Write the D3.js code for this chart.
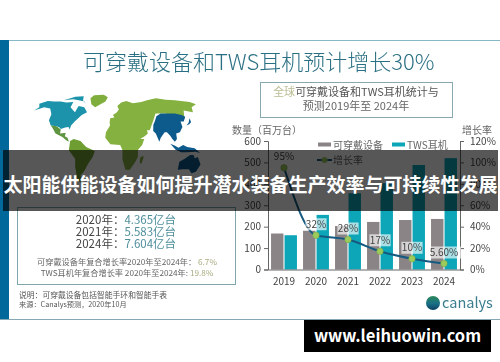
<!DOCTYPE html>
<html>
<head>
<meta charset="utf-8">
<script src="https://cdn.jsdelivr.net/npm/d3@7"></script>
<style>
html, body { margin: 0; padding: 0; background: #fff; }
svg { display: block; }
text { font-family: "Noto Sans CJK SC", "Noto Sans", sans-serif; }
</style>
</head>
<body>
<div id="chart"></div>
<script>
const years = ["2019", "2020", "2021", "2022", "2023", "2024"];
const wearables = [168, 181, 203, 222, 231, 236];
const tws = [160, 255, 356, 403, 488, 520];
const growth = [95, 32, 28, 17, 10, 5.6];
const growthLabels = ["95%", "32%", "28%", "17%", "10%", "5.60%"];
const countTicks = [0, 100, 200, 300, 400, 500, 600];
const rateTicks = [0, 20, 40, 60, 80, 100, 120];

// rough continent outlines, lon/lat
const northAmerica = [[-168,66],[-156,71],[-140,70],[-125,70],[-110,68],[-95,69],[-94,60],[-85,55],[-80,52],[-79,58],[-78,62],[-65,60],[-56,52],[-65,48],[-70,43],[-75,38],[-80,32],[-81,26],[-84,30],[-90,29],[-97,27],[-100,29],[-106,31],[-117,32],[-124,40],[-125,49],[-135,58],[-150,60],[-165,55],[-160,60]];
const arctic = [[-120,72],[-100,74],[-85,72],[-70,70],[-65,66],[-75,72],[-80,80],[-100,79]];
const mexico = [[-117,32],[-106,31],[-97,26],[-97,20],[-90,21],[-87,21],[-88,16],[-83,14],[-80,8],[-85,10],[-92,15],[-105,20],[-112,28]];
const southAmerica = [[-78,9],[-72,12],[-60,9],[-50,0],[-35,-6],[-39,-15],[-48,-25],[-57,-36],[-65,-42],[-68,-54],[-74,-50],[-72,-30],[-70,-18],[-80,-5]];
const greenland = [[-55,82],[-30,83],[-18,78],[-22,70],[-42,60],[-52,65],[-60,76]];
const afroEurasia = [[-10,37],[-9,43],[-1,44],[-4,48],[4,52],[8,57],[5,62],[14,68],[26,71],[40,67],[60,69],[75,72],[100,76],[120,73],[140,72],[170,69],[178,65],[162,60],[156,52],[140,55],[132,43],[120,40],[100,50],[80,50],[72,40],[62,25],[57,25],[58,20],[52,16],[44,12],[51,12],[47,3],[40,-4],[40,-15],[35,-24],[27,-34],[19,-34],[13,-18],[13,-5],[9,3],[-8,4],[-17,14],[-16,22],[-9,32]];
const china = [[74,38],[80,46],[90,50],[105,50],[118,50],[130,48],[135,45],[128,38],[122,38],[122,30],[115,22],[108,20],[108,12],[104,8],[100,12],[97,17],[92,22],[88,22],[80,14],[77,8],[72,20],[68,24],[70,33]];
const japan = [[130,32],[136,34],[141,37],[142,43],[140,41],[136,36]];
const indonesia = [[96,5],[105,-4],[115,-8],[125,-8],[140,-7],[148,-9],[138,-2],[125,0],[118,3],[110,-1],[104,2]];
const australia = [[114,-22],[122,-18],[131,-12],[137,-12],[140,-17],[145,-15],[153,-26],[150,-37],[143,-39],[135,-33],[124,-33],[115,-34]];
const madagascar = [[44,-16],[49,-13],[50,-16],[47,-25],[44,-24]];

const width = 500, height = 362;
const svg = d3.select("#chart").append("svg").attr("width", width).attr("height", height);

const defs = svg.append("defs");
defs.append("filter").attr("id", "soft")
    .attr("x", "0").attr("y", "0").attr("width", "1").attr("height", "1")
    .append("feGaussianBlur").attr("stdDeviation", 0.4);
const globeFill = defs.append("linearGradient").attr("id", "globe")
    .attr("x1", "0").attr("y1", "0").attr("x2", "0").attr("y2", "1");
globeFill.append("stop").attr("offset", "0%").attr("stop-color", "#2a8a5a");
globeFill.append("stop").attr("offset", "55%").attr("stop-color", "#1a6f86");
globeFill.append("stop").attr("offset", "100%").attr("stop-color", "#0c3f62");

const page = svg.append("g").attr("filter", "url(#soft)");

// panel
page.append("rect").attr("x", 0).attr("y", 40).attr("width", 500).attr("height", 280).attr("fill", "#fff");
page.append("rect").attr("x", 0).attr("y", 40).attr("width", 9).attr("height", 279).attr("fill", "#06689a");
page.append("line").attr("x1", 9).attr("x2", 500).attr("y1", 40.5).attr("y2", 40.5).attr("stroke", "#86b8c6");
page.append("line").attr("x1", 0).attr("x2", 500).attr("y1", 319.5).attr("y2", 319.5).attr("stroke", "#86a8b4");

page.append("text").attr("x", 83).attr("y", 70)
    .attr("font-size", 22).attr("fill", "#2c7084").attr("font-weight", 300)
    .text("可穿戴设备和TWS耳机预计增长30%");

// map
const projection = d3.geoNaturalEarth1().scale(38).translate([115, 147]);
const ringPath = ring => d3.line()(ring.map(projection)) + "Z";
const mapShapes = [
    [northAmerica, "#1a93ab"], [arctic, "#1a93ab"], [greenland, "#7fae3c"],
    [mexico, "#5f9440"], [southAmerica, "#6e9e32"], [afroEurasia, "#84b13f"],
    [china, "#0d5a8c"], [japan, "#0d5a8c"], [indonesia, "#0d5a8c"],
    [australia, "#0d5a8c"], [madagascar, "#84b13f"]
];
page.append("g").selectAll("path").data(mapShapes).join("path")
    .attr("d", d => ringPath(d[0]))
    .attr("fill", d => d[1]);

// subtitle box
page.append("rect").attr("x", 260.5).attr("y", 82.5).attr("width", 192).attr("height", 35)
    .attr("fill", "#fff").attr("stroke", "#86a8ae");
const sub1 = page.append("text").attr("x", 356).attr("y", 96).attr("text-anchor", "middle")
    .attr("font-size", 11).attr("fill", "#555");
sub1.append("tspan").attr("fill", "#b9bd92").text("全球");
sub1.append("tspan").text("可穿戴设备和TWS耳机统计与");
page.append("text").attr("x", 356).attr("y", 110).attr("text-anchor", "middle")
    .attr("font-size", 11).attr("fill", "#666").text("预测2019年至 2024年");

// chart
const x = d3.scaleBand().domain(years).range([268, 460]).paddingInner(0.19).paddingOuter(0.095);
const xSub = d3.scaleBand().domain(["wearables", "tws"]).range([0, x.bandwidth()]).paddingInner(0.08);
const y = d3.scaleLinear().domain([0, 600]).range([269.5, 141]);
const yRate = d3.scaleLinear().domain([0, 120]).range([269.5, 141]);

page.append("g").selectAll("rect").data(years).join("rect")
    .attr("x", d => x(d) + xSub("wearables"))
    .attr("width", xSub.bandwidth())
    .attr("y", (d, i) => y(wearables[i]))
    .attr("height", (d, i) => y(0) - y(wearables[i]))
    .attr("fill", "#8b8487");
page.append("g").selectAll("rect").data(years).join("rect")
    .attr("x", d => x(d) + xSub("tws"))
    .attr("width", xSub.bandwidth())
    .attr("y", (d, i) => y(tws[i]))
    .attr("height", (d, i) => y(0) - y(tws[i]))
    .attr("fill", "#0ba6b8");

const styleAxis = g => {
    g.selectAll("path,line").attr("stroke", "#666");
    g.selectAll("text").attr("fill", "#444").attr("font-size", 10).attr("font-family", "'Noto Sans', sans-serif");
};
page.append("g").attr("transform", "translate(268,0)")
    .call(d3.axisLeft(y).tickValues(countTicks).tickSize(4).tickPadding(3))
    .call(styleAxis).select(".domain").attr("fill", "none");
page.append("g").attr("transform", "translate(460,0)")
    .call(d3.axisRight(yRate).tickValues(rateTicks).tickSize(4).tickPadding(6).tickFormat(d => d + "%"))
    .call(styleAxis).select(".domain").attr("fill", "none");
page.append("g").attr("transform", "translate(0,269.5)")
    .call(d3.axisBottom(x).tickSize(0).tickPadding(8))
    .call(styleAxis).select(".domain").attr("fill", "none");

page.append("text").attr("x", 232).attr("y", 134).attr("font-size", 10).attr("fill", "#666").text("数量（百万台）");
page.append("text").attr("x", 462).attr("y", 134).attr("font-size", 10).attr("fill", "#666").text("增长率");

// legend
page.append("rect").attr("x", 318).attr("y", 142.5).attr("width", 13).attr("height", 4).attr("fill", "#8b8487");
page.append("text").attr("x", 333).attr("y", 148.5).attr("font-size", 10).attr("fill", "#666").text("可穿戴设备");
page.append("rect").attr("x", 392).attr("y", 142.5).attr("width", 13).attr("height", 4).attr("fill", "#0ba6b8");
page.append("text").attr("x", 407).attr("y", 148.5).attr("font-size", 10).attr("fill", "#666").text("TWS耳机");
page.append("line").attr("x1", 317).attr("x2", 332).attr("y1", 160).attr("y2", 160).attr("stroke", "#1d5a80").attr("stroke-width", 2);
page.append("circle").attr("cx", 324.5).attr("cy", 160).attr("r", 3).attr("fill", "#9ccb5c");
page.append("text").attr("x", 333).attr("y", 164).attr("font-size", 10).attr("fill", "#666").text("增长率");

// growth line
const cx = d => x(d) + x.bandwidth() / 2;
const line = d3.line().x(d => cx(d)).y((d, i) => yRate(growth[i])).curve(d3.curveMonotoneX);
page.append("path").datum(years).attr("d", line)
    .attr("fill", "none").attr("stroke", "#145a80").attr("stroke-width", 2);
page.append("g").selectAll("circle").data(years).join("circle")
    .attr("cx", cx)
    .attr("cy", (d, i) => yRate(growth[i]))
    .attr("r", 3.2)
    .attr("fill", "#9ccb5c").attr("stroke", "#7cab48").attr("stroke-width", 0.6);

const labels = page.append("g").selectAll("g").data(years).join("g")
    .attr("transform", (d, i) => `translate(${cx(d)},${yRate(growth[i]) - 11})`);
labels.append("rect")
    .attr("x", (d, i) => -growthLabels[i].length * 3.2 - 1)
    .attr("y", -6)
    .attr("width", (d, i) => growthLabels[i].length * 6.4 + 2)
    .attr("height", 12)
    .attr("fill", "#fff").attr("fill-opacity", (d, i) => i === 0 ? 0 : 0.65);
labels.append("text")
    .attr("text-anchor", "middle").attr("dy", "0.36em")
    .attr("font-size", 10).attr("fill", "#444")
    .attr("font-family", "'Noto Sans', sans-serif")
    .text((d, i) => growthLabels[i]);

// stats box
page.append("rect").attr("x", 17.5).attr("y", 207.5).attr("width", 218).attr("height", 77)
    .attr("fill", "#fff").attr("stroke", "#7fa5ad");
const statRows = [["2020年：", "4.365亿台", 224], ["2021年：", "5.583亿台", 236], ["2024年：", "7.604亿台", 248]];
const statText = page.append("g").selectAll("text").data(statRows).join("text")
    .attr("x", 126).attr("y", d => d[2]).attr("text-anchor", "middle")
    .attr("font-size", 11.5).attr("fill", "#444");
statText.append("tspan").text(d => d[0]);
statText.append("tspan").attr("fill", "#4f8f9c").text(d => d[1]);

const cagr1 = page.append("text").attr("x", 127).attr("y", 265).attr("text-anchor", "middle")
    .attr("font-size", 8.2).attr("fill", "#666");
cagr1.append("tspan").text("可穿戴设备年复合增长率2020年至2024年：");
cagr1.append("tspan").attr("fill", "#a9ac80").text(" 6.7%");
const cagr2 = page.append("text").attr("x", 127).attr("y", 276).attr("text-anchor", "middle")
    .attr("font-size", 8.2).attr("fill", "#666");
cagr2.append("tspan").text("TWS耳机年复合增长率 2020年至2024年:");
cagr2.append("tspan").attr("fill", "#a9ac80").text(" 19.8%");

page.append("text").attr("x", 19).attr("y", 298).attr("font-size", 7.8).attr("fill", "#555").text("说明：可穿戴设备包括智能手环和智能手表");
page.append("text").attr("x", 19).attr("y", 307).attr("font-size", 7.2).attr("fill", "#555").text("来源：Canalys预测，2020年10月");

// logo
page.append("circle").attr("cx", 433).attr("cy", 303).attr("r", 7).attr("fill", "url(#globe)");
page.append("text").attr("x", 442).attr("y", 308).attr("font-size", 14.5).attr("fill", "#3a7d8e")
    .attr("font-family", "'Open Sans', sans-serif").text("canalys");

// overlay band
svg.append("rect").attr("x", 3).attr("y", 150).attr("width", 495).attr("height", 61)
    .attr("fill", "#000").attr("fill-opacity", 0.66);
svg.append("text").attr("x", 250.5).attr("y", 192).attr("text-anchor", "middle")
    .attr("font-size", 19).attr("font-weight", 700).attr("fill", "#fff")
    .text("太阳能供能设备如何提升潜水装备生产效率与可持续性发展");

// watermark
svg.append("rect").attr("x", 304).attr("y", 320).attr("width", 187).attr("height", 32).attr("fill", "#000");
svg.append("text").attr("x", 397.5).attr("y", 342).attr("text-anchor", "middle")
    .attr("font-size", 16.5).attr("font-weight", 700).attr("fill", "#fff")
    .attr("font-family", "'DejaVu Sans', sans-serif").text("www.leihuowin.com");
</script>
</body>
</html>
